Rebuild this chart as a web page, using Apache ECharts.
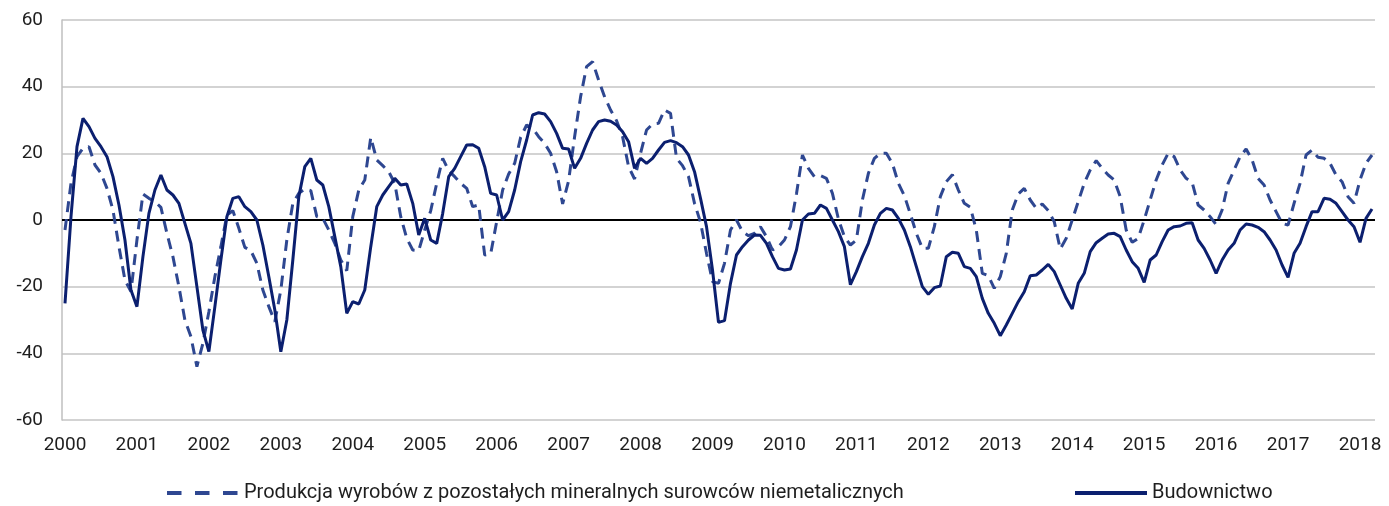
<!DOCTYPE html>
<html>
<head>
<meta charset="utf-8">
<script src="https://cdn.jsdelivr.net/npm/echarts@6/dist/echarts.min.js"></script>
<style>
  html, body { margin: 0; padding: 0; background: #fff; }
  #chart { width: 1389px; height: 506px; }
</style>
</head>
<body>
<div id="chart"></div>
<script>
// years shown on the axis; last year only has Jan-Mar
const years = [2000, 2001, 2002, 2003, 2004, 2005, 2006, 2007, 2008, 2009,
               2010, 2011, 2012, 2013, 2014, 2015, 2016, 2017, 2018];
const monthsInLastYear = 3;

const nameProdukcja = 'Produkcja wyrobów z pozostałych mineralnych surowców niemetalicznych';
const nameBudownictwo = 'Budownictwo';

// monthly values, one row per year
const produkcja = [
  -3, 11, 19, 21.5, 22, 16.5, 14, 9.5, 3, -8, -18, -21.5,
  -6, 7.8, 6.5, 5.5, 3.8, -4, -11, -20, -30, -35, -44, -37,
  -27.5, -17, -8, 1.5, 2.8, -2.5, -8.2, -9.2, -13, -21, -26, -30.5,
  -21, -6, 5, 8, 9.3, 8.8, 1, 0.5, -3, -7, -12, -15.2,
  1, 9, 12, 24.8, 18, 16.3, 14.5, 11, 1, -5.5, -9, -9.2,
  -3, 2.8, 11, 18.5, 14.8, 13, 11, 9.5, 4, 4.5, -10.5, -10.2,
  -0.5, 9, 13.8, 17, 24.8, 28.5, 27.5, 25, 23, 20, 14.5, 4.8,
  11.8, 25, 37, 46, 47.5, 42, 37, 33, 29.8, 25, 16, 12.3,
  20, 27, 28.8, 29, 33, 32, 18.5, 16.3, 13, 5, -0.7, -10,
  -18.5, -19, -13, -3, 0, -3.5, -4.7, -4, -2, -5, -9, -8,
  -6, -2, 7.8, 19.5, 15.5, 13, 13.3, 12.5, 8, 0.3, -5, -7.5,
  -6, 6, 14, 18.5, 20, 20, 17, 11, 7.3, 1.8, -4, -8.5,
  -8.5, -2, 7, 11.5, 13.6, 9, 5, 3.8, -3, -16, -16.7, -20.5,
  -17, -10, 3, 7.8, 9.5, 6, 3.5, 4.8, 2.8, -0.5, -8.7, -5.5,
  0, 5.5, 11, 15, 17.8, 15.5, 13.5, 12, 7, -3, -6.7, -5.5,
  0, 6, 12, 16.5, 20, 19, 15, 12.5, 11.3, 4.5, 3, 1,
  -1.4, 3, 11, 15, 19, 21.3, 18, 12.5, 10.5, 6, 2.5, -1,
  -1.5, 5, 11, 19.5, 21, 18.8, 18.5, 17, 13.5, 11.5, 7, 5,
  12, 17, 19.5
];

const budownictwo = [
  -25, 1, 22, 30.5, 28, 24.5, 22, 19, 13, 4.5, -6, -21,
  -26, -11, 2, 9, 13.5, 9, 7.5, 5, -1, -7, -20, -33,
  -39.5, -26, -12, 1, 6.5, 7, 4, 2.5, 0, -7.5, -17, -27,
  -39.5, -30, -12, 7, 16, 18.5, 12, 10.5, 4, -5, -14, -28,
  -24.5, -25.2, -21, -8, 4, 7.5, 10, 12.5, 10.5, 10.8, 5, -4.5,
  0.5, -6, -7, 2, 13, 15.5, 19, 22.5, 22.6, 21.5, 16, 8,
  7.5, 0, 2.5, 9, 17.5, 24, 31.5, 32.2, 31.8, 29.5, 26, 21.5,
  21.3, 15.5, 18.5, 23, 27, 29.5, 30, 29.6, 28.5, 26.5, 23.5, 15.5,
  18.5, 17, 18.5, 21, 23.3, 23.8, 23.2, 22, 19.5, 14.5, 6.5, -2,
  -15, -30.7, -30.2, -19, -10.5, -8, -6, -4.5, -4.6, -7, -11, -14.5,
  -15, -14.7, -9, 0, 1.8, 2, 4.5, 3.5, 0, -3.5, -8, -19.4,
  -15.5, -11, -7, -1.5, 2, 3.5, 3, 0.5, -3, -8, -14, -20,
  -22.3, -20.3, -19.8, -11, -9.7, -10, -14, -14.5, -17, -23.5, -28, -31,
  -34.7, -31.5, -28, -24.5, -21.5, -16.7, -16.5, -15, -13.3, -15.5, -19.5, -23.5,
  -26.7, -19, -16, -9.5, -6.8, -5.5, -4.2, -4, -5, -9, -12.5, -14.5,
  -18.7, -12, -10.5, -6.5, -3, -2, -1.8, -1, -0.8, -6, -8.5, -12,
  -16, -12, -9, -7, -3, -1.2, -1.5, -2.2, -3.5, -6, -9, -13.5,
  -17.2, -10, -7, -2, 2.5, 2.5, 6.5, 6.2, 5, 2.5, 0, -2,
  -6.7, 0.5, 3.3
];

// month categories, e.g. "2000-01"
const categories = [];
years.forEach(function (y, k) {
  const n = k === years.length - 1 ? monthsInLastYear : 12;
  for (let m = 1; m <= n; m++) {
    categories.push(y + '-' + (m < 10 ? '0' + m : m));
  }
});

const font = 'Roboto';
const textColor = '#1e1e1e';
const colorProdukcja = '#2e4791';
const colorBudownictwo = '#0b1f6f';

let myChart = echarts.init(document.getElementById('chart'));
myChart.setOption({
  animation: false,
  grid: { left: 62, right: 14, top: 20, bottom: 86 },
  legend: [
    {
      left: 160, top: 478,
      data: [nameProdukcja],
      itemWidth: 72, itemHeight: 14,
      itemStyle: { opacity: 0 },
      lineStyle: { width: 4, type: [14.5, 13.5] },
      textStyle: { fontSize: 20, color: textColor, fontFamily: font }
    },
    {
      left: 1068, top: 478,
      data: [nameBudownictwo],
      itemWidth: 72, itemHeight: 14,
      itemStyle: { opacity: 0 },
      lineStyle: { width: 4 },
      textStyle: { fontSize: 20, color: textColor, fontFamily: font }
    }
  ],
  xAxis: {
    type: 'category',
    data: categories,
    boundaryGap: true,
    axisLine: { show: false },
    axisTick: { show: false },
    axisLabel: {
      interval: 11,
      margin: 16,
      fontSize: 19,
      color: textColor,
      fontFamily: font,
      formatter: function (v) { return v.slice(0, 4); }
    }
  },
  yAxis: {
    type: 'value',
    min: -60, max: 60, interval: 20,
    axisLine: { show: true, lineStyle: { color: '#bfbfbf', width: 1.5 } },
    axisTick: { show: false },
    axisLabel: { fontSize: 19, color: textColor, fontFamily: font, margin: 19 },
    splitLine: { lineStyle: { color: '#c4c4c4', width: 1.5 } }
  },
  series: [
    {
      name: nameProdukcja,
      type: 'line',
      data: produkcja,
      symbol: 'none',
      lineStyle: { color: colorProdukcja, width: 3, type: [11, 7] },
      itemStyle: { color: colorProdukcja },
      markLine: {
        silent: true,
        symbol: 'none',
        z: 1,
        label: { show: false },
        lineStyle: { color: '#000', width: 2, type: 'solid' },
        data: [{ yAxis: 0 }]
      }
    },
    {
      name: nameBudownictwo,
      type: 'line',
      data: budownictwo,
      symbol: 'none',
      lineStyle: { color: colorBudownictwo, width: 3 },
      itemStyle: { color: colorBudownictwo }
    }
  ]
});
</script>
</body>
</html>
